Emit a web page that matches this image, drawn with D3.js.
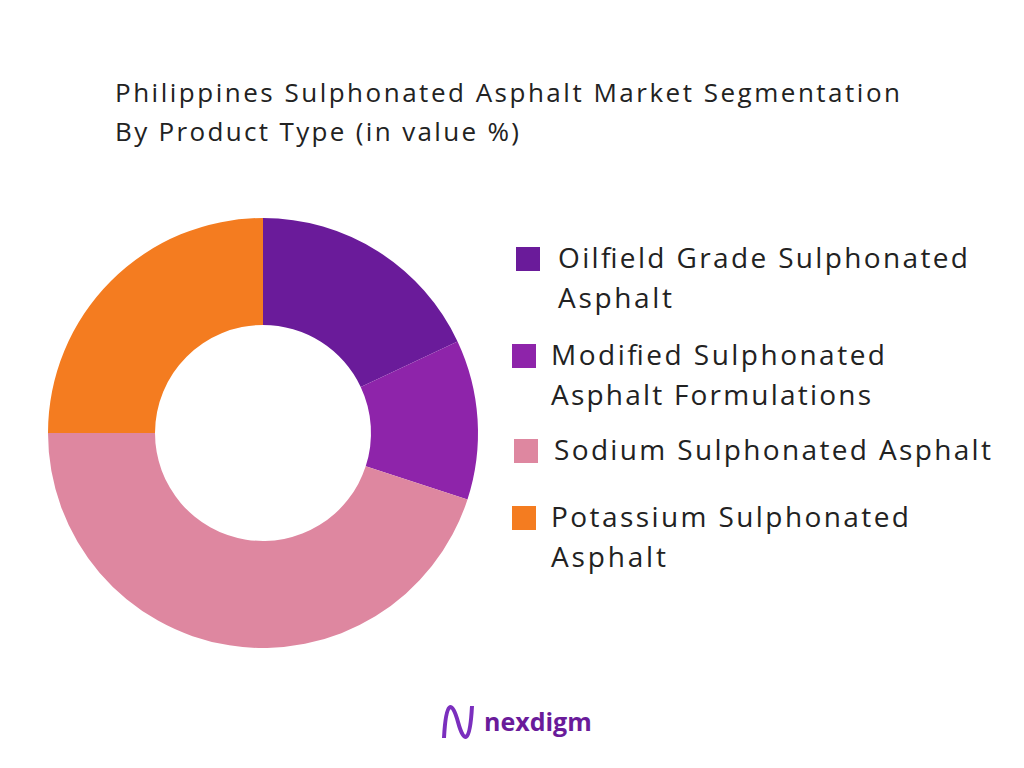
<!DOCTYPE html>
<html><head><meta charset="utf-8">
<script src="https://cdn.jsdelivr.net/npm/d3@7"></script>
<style>body{margin:0;background:#fff}text{font-family:"Open Sans",Lato,sans-serif}</style>
</head><body>
<svg id="c" width="1024" height="768"></svg>
<script>
const categories=["Oilfield Grade Sulphonated Asphalt","Modified Sulphonated Asphalt Formulations","Sodium Sulphonated Asphalt","Potassium Sulphonated Asphalt"];
const values=[18,12,45,25];
const colors=["#6A1B9A","#8E24AA","#DE87A0","#F47C20"];
const legendLines=[["Oilfield Grade Sulphonated","Asphalt"],["Modified Sulphonated","Asphalt Formulations"],["Sodium Sulphonated Asphalt"],["Potassium Sulphonated","Asphalt"]];
const legendWidths=[[410,114],[334,320],[437],[358,115]];
const svg=d3.select("#c");
svg.append("text").attr("x",115).attr("y",102).attr("font-size",26).attr("fill","#222").attr("textLength",785).attr("lengthAdjust","spacing").text("Philippines Sulphonated Asphalt Market Segmentation");
svg.append("text").attr("x",115).attr("y",141).attr("font-size",26).attr("fill","#222").attr("textLength",404).attr("lengthAdjust","spacing").text("By Product Type (in value %)");
const pie=d3.pie().sort(null)(values);
const arc=d3.arc().innerRadius(108).outerRadius(215);
const g=svg.append("g").attr("transform","translate(263,433)");
g.selectAll("path").data(pie).join("path").attr("d",arc).attr("fill",(d,i)=>colors[i]);
const lx=[516,512,514,512], ly=[258,355,450,517], tx=[558,551,554,551];
legendLines.forEach((ls,i)=>{
 svg.append("rect").attr("x",lx[i]).attr("y",ly[i]-11).attr("width",24).attr("height",24).attr("fill",colors[i]);
 ls.forEach((t,j)=>svg.append("text").attr("x",tx[i]).attr("y",ly[i]+10+j*40).attr("font-size",28).attr("fill","#222").attr("textLength",legendWidths[i][j]).attr("lengthAdjust","spacing").text(t));
});
const lg=svg.append("g");
lg.append("path").attr("d","M444,738 C446,700 452,700 458,722 C464,744 470,744 472,706").attr("fill","none").attr("stroke","#7B2FBE").attr("stroke-width",4);
lg.append("text").attr("x",484).attr("y",731).attr("font-size",25).attr("font-weight","bold").attr("fill","#6A1B9A").text("nexdigm");
</script></body></html>
